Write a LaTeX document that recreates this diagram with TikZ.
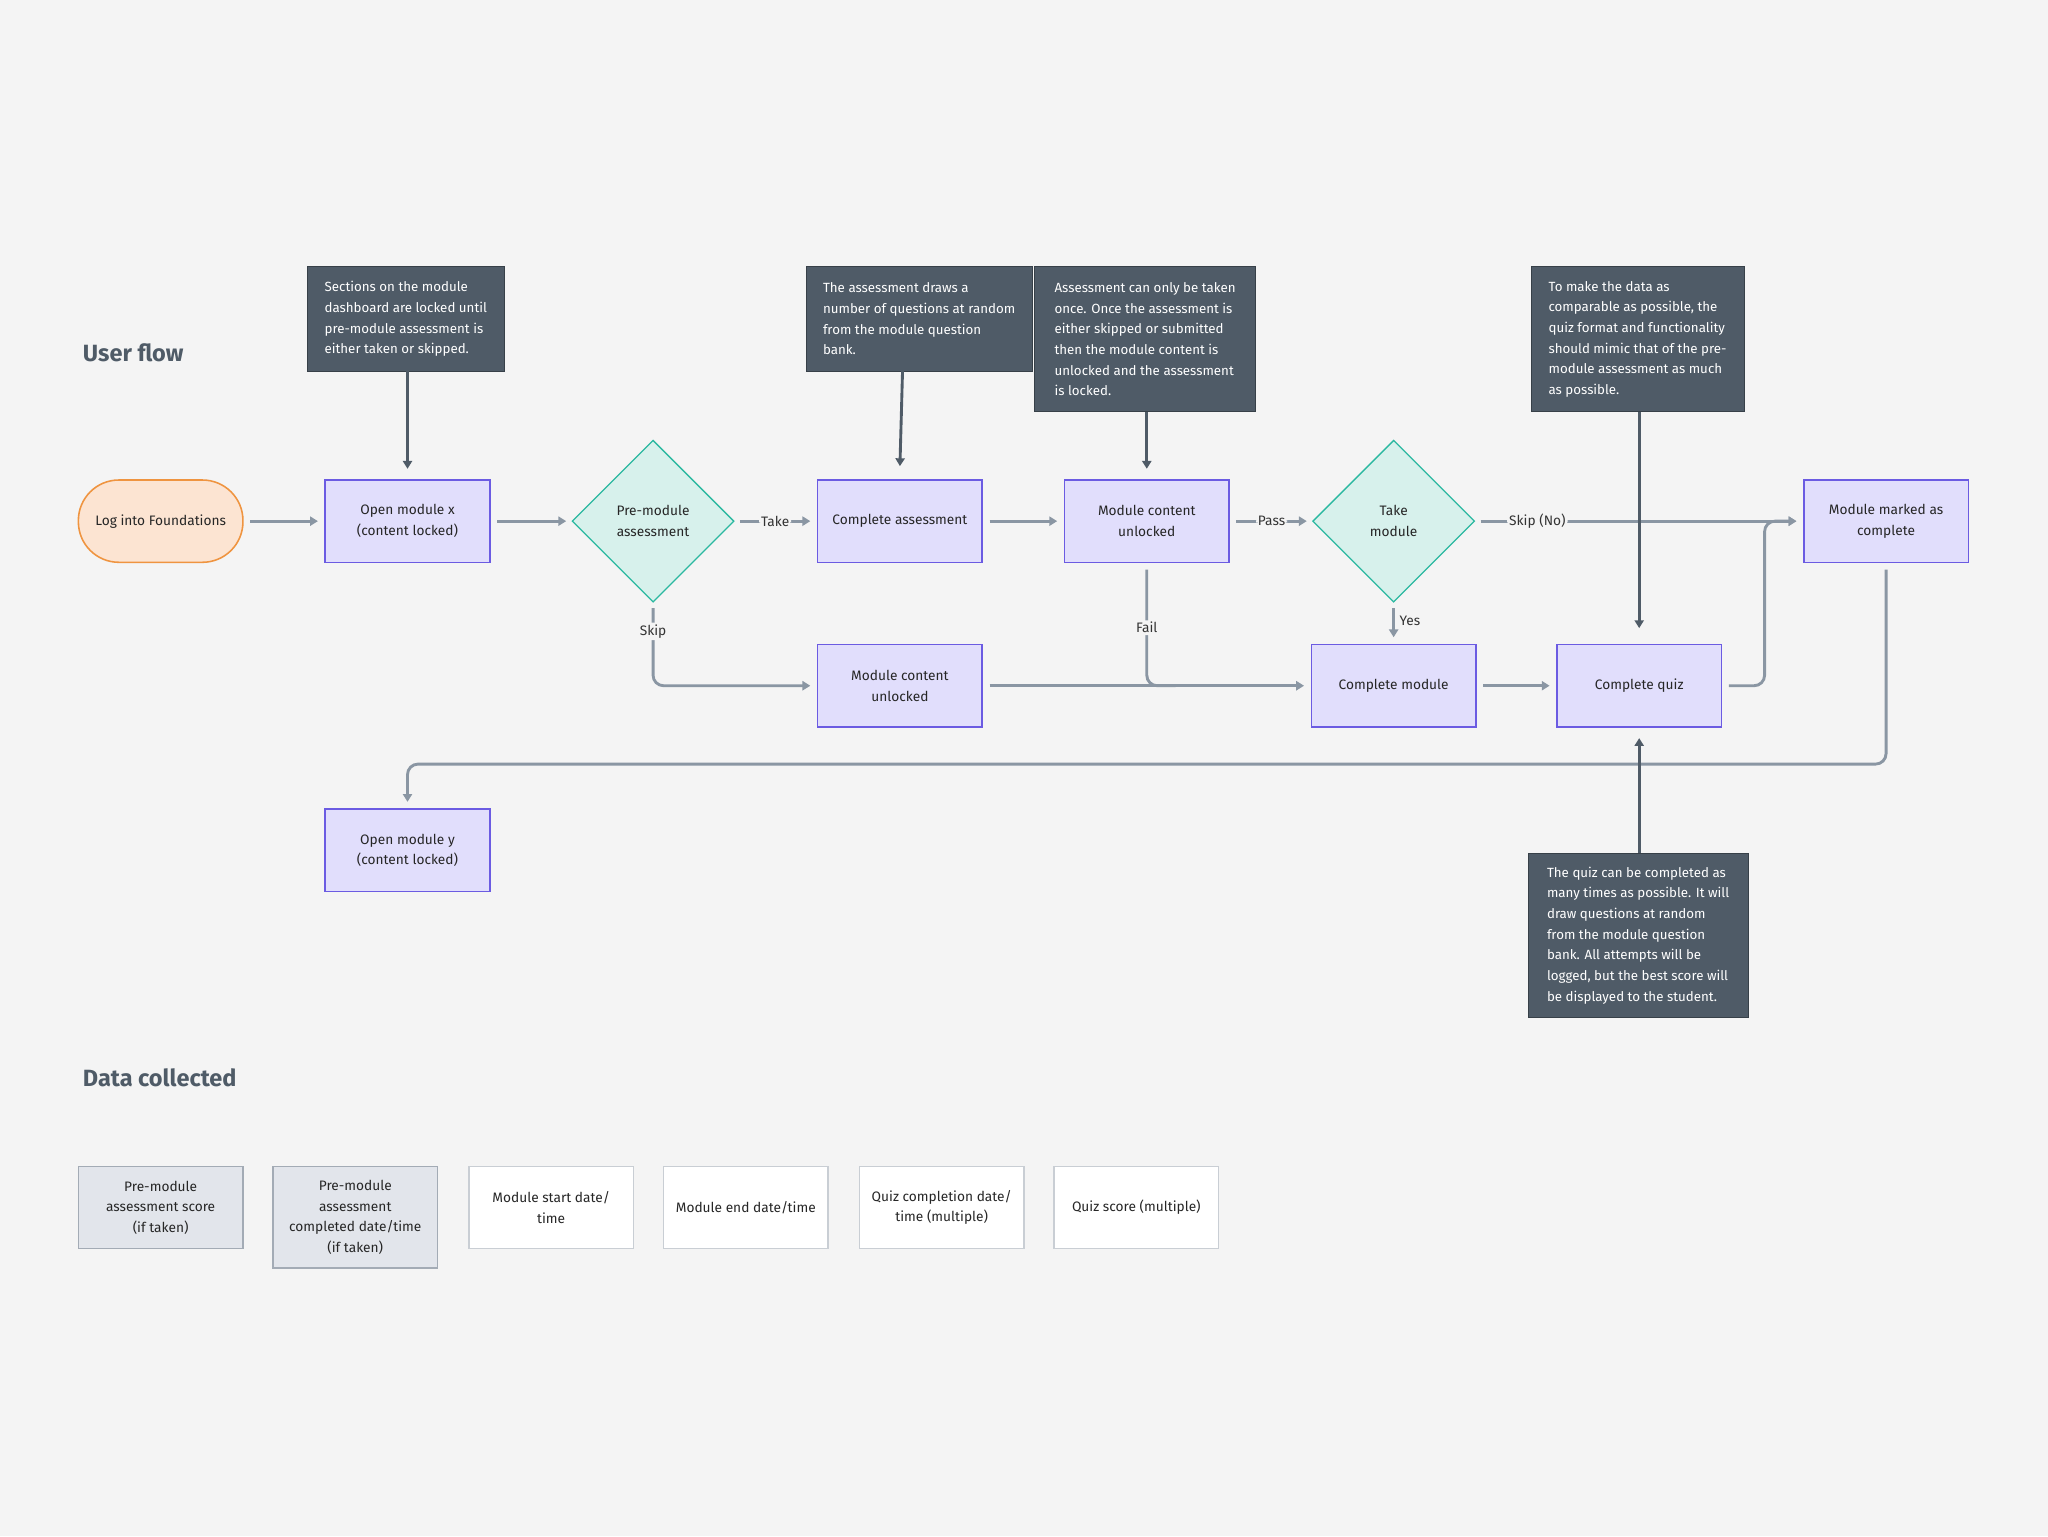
\documentclass[tikz,border=0pt]{standalone}
\usepackage{fontspec}
\setmainfont{Fira Sans}
\usetikzlibrary{shapes.geometric,arrows.meta,positioning}
\definecolor{bg}{HTML}{F4F4F4}
\definecolor{pfill}{HTML}{E1DEFC}
\definecolor{pdraw}{HTML}{6B5BE2}
\definecolor{tfill}{HTML}{D7F1EC}
\definecolor{tdraw}{HTML}{2BB8A0}
\definecolor{ofill}{HTML}{FCE4D2}
\definecolor{odraw}{HTML}{EF9440}
\definecolor{note}{HTML}{4F5B67}
\definecolor{conn}{HTML}{8A96A3}
\definecolor{gfill}{HTML}{E2E5EB}
\definecolor{gdraw}{HTML}{A3ABB5}
\definecolor{wdraw}{HTML}{C9CED4}
\begin{document}
\begin{tikzpicture}[x=1pt,y=-1pt,
  every node/.style={font=\fontsize{10.5}{15.8}\selectfont, text=black!85},
  proc/.style={draw=pdraw, fill=pfill, line width=1.2pt, minimum width=126pt, minimum height=63pt, align=center, inner sep=2pt},
  dec/.style={diamond, draw=tdraw, fill=tfill, line width=1pt, minimum width=124pt, minimum height=124pt, align=center, inner sep=0pt},
  nt/.style={fill=note, draw=note!70!black, text=white, align=left, anchor=north west, inner sep=6pt, font=\fontsize{10.2}{15.8}\selectfont},
  dat/.style={line width=1.2pt, minimum width=126pt, minimum height=63pt, align=center, inner sep=2pt},
  c/.style={draw=conn, line width=2.2pt, -{Triangle[length=6pt,width=7pt]}, rounded corners=8pt},
  na/.style={draw=note, line width=2.2pt, -{Triangle[length=6pt,width=7pt]}},
  lab/.style={fill=bg, inner sep=1.5pt, text=black!80}]
\fill[bg] (0,0) rectangle (1568,1176);
\useasboundingbox (0,0) rectangle (1568,1176);
\node[anchor=west, font=\fontsize{18}{20}\selectfont\bfseries, text=note] (t1) at (60,270) {User flow};
\node[anchor=west, font=\fontsize{18}{20}\selectfont\bfseries, text=note] (t2) at (60,825) {Data collected};

\node[draw=odraw, fill=ofill, line width=1.2pt, rounded corners=31pt, minimum width=126pt, minimum height=63pt] (log) at (123,399) {Log into Foundations};
\node[proc] (ox) at (312,399) {Open module x\\(content locked)};
\node[dec] (pm) at (500,399) {Pre-module\\assessment};
\node[proc] (ca) at (689,399) {Complete assessment};
\node[proc] (mu) at (878,399) {Module content\\unlocked};
\node[dec] (tm) at (1067,399) {Take\\module};
\node[proc] (mc) at (1444,399) {Module marked as\\complete};
\node[proc] (mu2) at (689,525) {Module content\\unlocked};
\node[proc] (cm) at (1067,525) {Complete module};
\node[proc] (cq) at (1255,525) {Complete quiz};
\node[proc] (oy) at (312,651) {Open module y\\(content locked)};

\node[nt, minimum width=151pt, minimum height=80pt] (n1) at (235,204) {Sections on the module\\dashboard are locked until\\pre-module assessment is\\either taken or skipped.};
\node[nt, minimum width=173pt, minimum height=80pt] (n2) at (617,204) {The assessment draws a\\number of questions at random\\from the module question\\bank.};
\node[nt, minimum width=169pt, minimum height=111pt] (n3) at (792,204) {Assessment can only be taken\\once. Once the assessment is\\either skipped or submitted\\then the module content is\\unlocked and the assessment\\is locked.};
\node[nt, minimum width=163pt, minimum height=111pt] (n4) at (1172,204) {To make the data as\\comparable as possible, the\\quiz format and functionality\\should mimic that of the pre-\\module assessment as much\\as possible.};
\node[nt, minimum width=168pt, minimum height=126pt] (n5) at (1170,653) {The quiz can be completed as\\many times as possible. It will\\draw questions at random\\from the module question\\bank. All attempts will be\\logged, but the best score will\\be displayed to the student.};

\draw[c] ([xshift=5pt]log.east) -- ([xshift=-5pt]ox.west);
\draw[c] ([xshift=5pt]ox.east) -- ([xshift=-4pt]pm.west);
\draw[c] ([xshift=4pt]pm.east) -- node[lab]{Take} ([xshift=-5pt]ca.west);
\draw[c] ([xshift=5pt]ca.east) -- ([xshift=-5pt]mu.west);
\draw[c] ([xshift=5pt]mu.east) -- node[lab]{Pass} ([xshift=-4pt]tm.west);
\draw[c] ([xshift=4pt]tm.east) -- node[lab, pos=0.18]{Skip (No)} ([xshift=-5pt]mc.west);
\draw[c] ([yshift=-4pt]pm.south) -- node[lab, pos=0.3]{Skip} (500,525) -- ([xshift=-5pt]mu2.west);
\draw[c] ([xshift=5pt]mu2.east) -- ([xshift=-5pt]cm.west);
\draw[draw=conn, line width=2.2pt, rounded corners=8pt] ([yshift=-5pt]mu.south) -- node[lab, pos=0.5]{Fail} (878,525) -- (900,525);
\draw[c] ([yshift=-4pt]tm.south) -- node[lab, right, pos=0.45, xshift=2pt]{Yes} ([yshift=5pt]cm.north);
\draw[c] ([xshift=5pt]cm.east) -- ([xshift=-5pt]cq.west);
\draw[c] ([xshift=5pt]cq.east) -- (1351,525) -- (1351,399) -- ([xshift=-5pt]mc.west);
\draw[c] ([yshift=-5pt]mc.south) -- (1444,585) -- (312,585) -- ([yshift=5pt]oy.north);

\draw[na] (n1.south -| ox) -- ([yshift=8pt]ox.north);
\draw[na] (691,284) -- ([yshift=10pt]ca.north);
\draw[na] (n3.south -| mu) -- ([yshift=8pt]mu.north);
\draw[na] (n4.south -| cq) -- ([yshift=12pt]cq.north);
\draw[na] (n5.north -| cq) -- ([yshift=-8pt]cq.south);

\node[dat, draw=gdraw, fill=gfill] (d1) at (123,924.5) {Pre-module\\assessment score\\(if taken)};
\node[dat, draw=gdraw, fill=gfill, minimum height=78pt] (d2) at (272,932) {Pre-module\\assessment\\completed date/time\\(if taken)};
\node[dat, draw=wdraw, fill=white] (d3) at (422,924.5) {Module start date/\\time};
\node[dat, draw=wdraw, fill=white] (d4) at (571,924.5) {Module end date/time};
\node[dat, draw=wdraw, fill=white] (d5) at (721,924.5) {Quiz completion date/\\time (multiple)};
\node[dat, draw=wdraw, fill=white] (d6) at (870,924.5) {Quiz score (multiple)};
\end{tikzpicture}
\end{document}
